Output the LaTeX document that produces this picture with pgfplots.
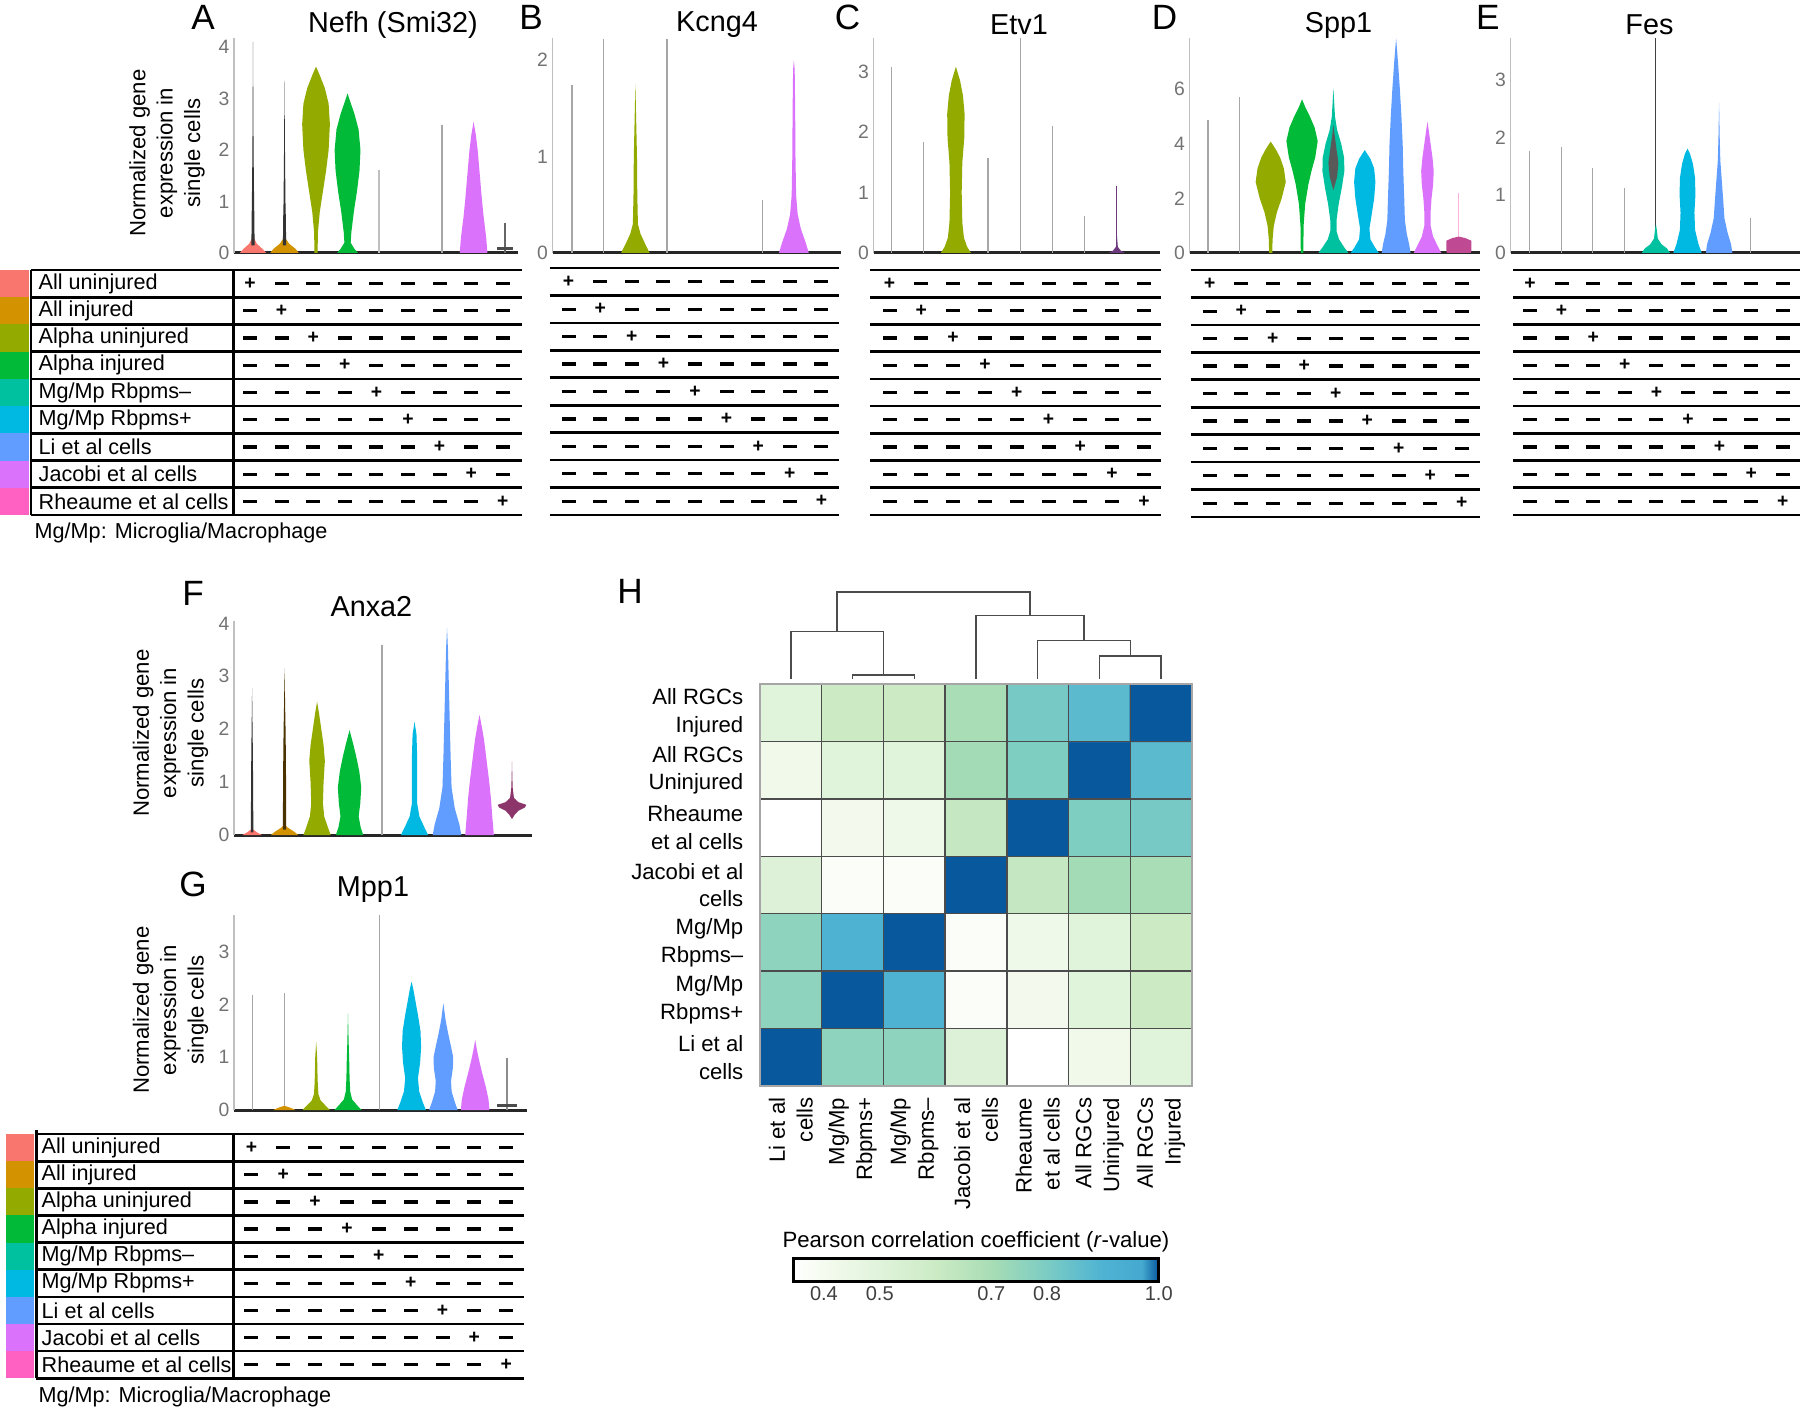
\documentclass[border=0pt]{standalone}
\usepackage{fontspec}
\setmainfont{Liberation Sans}
\usepackage{pgfplots}
\pgfplotsset{compat=1.18}

\definecolor{c0}{HTML}{F8766D}
\definecolor{c1}{HTML}{D39200}
\definecolor{c2}{HTML}{93AA00}
\definecolor{c3}{HTML}{00BA38}
\definecolor{c4}{HTML}{00C19F}
\definecolor{c5}{HTML}{00B9E3}
\definecolor{c6}{HTML}{619CFF}
\definecolor{c7}{HTML}{DB72FB}
\definecolor{c8}{HTML}{FF61C3}

\newcommand\fLab{\fontsize{6.15}{7}\selectfont}
\newcommand\fTitle{\fontsize{8.2}{9}\selectfont}
\newcommand\fLet{\fontsize{10}{12}\selectfont}
\newcommand\fTick{\fontsize{5.5}{6}\selectfont}
\newcommand\fTickH{\fontsize{5.7}{6}\selectfont}
\newcommand\fYlab{\fontsize{6.3}{7.8}\selectfont}
\newcommand\fHm{\fontsize{6.3}{7.9}\selectfont}

\pgfplotsset{
  /pgf/number format/assume math mode=true,
  colormap={gnbu}{rgb255(0pt)=(255,255,255) rgb255(55pt)=(245,251,239) rgb255(155pt)=(224,243,219) rgb255(255pt)=(204,235,197) rgb255(355pt)=(168,221,181) rgb255(455pt)=(123,204,196) rgb255(555pt)=(78,179,211) rgb255(625pt)=(69,169,208) rgb255(655pt)=(8,88,158)},
  vio/.style={scale only axis, anchor=south west, ymin=0, axis lines=left,
    axis line style={-}, x axis line style={black!85, line width=0.3mm},
    y axis line style={black!25, line width=0.15mm},
    xtick=\empty, major tick length=0pt,
    yticklabel style={font=\fTick, text=black!55, inner sep=0.4mm},
    clip=false},
  tabline/.style={black, line width=0.27mm, forget plot},
}

% violin: center, colour, list of y/halfwidth from bottom to top
\newcommand\violin[3]{%
  \gdef\vR{}\gdef\vL{}%
  \foreach \yy/\ww in {#3}{%
    \pgfmathsetmacro\xr{#1+\ww}%
    \pgfmathsetmacro\xl{#1-\ww}%
    \xdef\vR{\vR(\xr,\yy) }%
    \xdef\vL{(\xl,\yy) \vL}%
  }%
  \edef\vtmp{\noexpand\addplot[fill=#2,draw=none,forget plot] coordinates {\vR\vL};}%
  \vtmp
}
\newcommand\vstem[3]{\addplot[draw=#2, line width=0.12mm, forget plot] coordinates {(#1,0) (#1,#3)};}

% table helpers (overlay axis, pixel units)
\tikzset{
  lab/.style={anchor=west, font=\fLab, inner sep=0pt},
  minusn/.style={fill=black, draw=none, minimum width=1.4mm, minimum height=0.32mm, inner sep=0pt},
  plusn/.style={inner sep=0pt, font=\fontsize{5.5}{5.5}\selectfont\bfseries},
}
\newcommand\hlines[4]{% x1 x2 y0 dy
  \foreach \kk in {0,...,9}{%
    \pgfmathsetmacro\py{#3+#4*\kk}%
    \edef\tmp{\noexpand\addplot[tabline] coordinates {(#1,\py) (#2,\py)};}\tmp}}
\newcommand\strips[4]{% x1 x2 y0 dy
  \foreach \kk in {0,...,8}{%
    \pgfmathsetmacro\ya{#3+#4*\kk}\pgfmathsetmacro\yb{#3+#4*(\kk+1)}%
    \edef\tmp{\noexpand\addplot[fill=c\kk, draw=none, forget plot] coordinates {(#1,\ya) (#2,\ya) (#2,\yb) (#1,\yb)};}\tmp}}
\newcommand\pmgrid[4]{% x0 dx yc0 dy
  \foreach \kk in {0,...,8}{%
    \foreach \ii in {0,...,8}{%
      \pgfmathsetmacro\px{#1+#2*\ii}\pgfmathsetmacro\py{#3+#4*\kk}%
      \ifnum\ii=\kk\relax
        \edef\tmp{\noexpand\node[plusn] at (axis cs:\px,\py) {+};}%
      \else
        \edef\tmp{\noexpand\node[minusn] at (axis cs:\px,\py) {};}%
      \fi\tmp}}}
\newcommand\tablabels[3]{%
  \node[lab] at (axis cs:#1,{#2+0*#3}) {All uninjured};
  \node[lab] at (axis cs:#1,{#2+1*#3}) {All injured};
  \node[lab] at (axis cs:#1,{#2+2*#3}) {Alpha uninjured};
  \node[lab] at (axis cs:#1,{#2+3*#3}) {Alpha injured};
  \node[lab] at (axis cs:#1,{#2+4*#3}) {Mg/Mp Rbpms–};
  \node[lab] at (axis cs:#1,{#2+5*#3}) {Mg/Mp Rbpms+};
  \node[lab] at (axis cs:#1,{#2+6*#3}) {Li et al cells};
  \node[lab] at (axis cs:#1,{#2+7*#3}) {Jacobi et al cells};
  \node[lab] at (axis cs:#1,{#2+8*#3}) {Rheaume et al cells};}

\begin{document}
\begin{tikzpicture}
\useasboundingbox (0,0) rectangle (180mm,141mm);

% ---------- overlay in pixel units: texts and tables ----------
\begin{axis}[at={(0,0)}, anchor=south west, scale only axis, width=180mm, height=141mm,
  xmin=0, xmax=1800, ymin=0, ymax=1410, y dir=reverse, hide axis, clip=false]
  \node[font=\fLet] at (axis cs:203,17) {A};
  \node[font=\fLet] at (axis cs:531,17) {B};
  \node[font=\fLet] at (axis cs:847.5,17) {C};
  \node[font=\fLet] at (axis cs:1164.5,17) {D};
  \node[font=\fLet] at (axis cs:1487.8,17) {E};
  \node[font=\fLet] at (axis cs:193,593) {F};
  \node[font=\fLet] at (axis cs:193,884) {G};
  \node[font=\fLet] at (axis cs:630,591) {H};

  \node[font=\fTitle] at (axis cs:393,25) {Nefh (Smi32)};
  \node[font=\fTitle] at (axis cs:717,25) {Kcng4};
  \node[font=\fTitle] at (axis cs:1019,25) {Etv1};
  \node[font=\fTitle] at (axis cs:1338.6,25) {Spp1};
  \node[font=\fTitle] at (axis cs:1649.5,25) {Fes};
  \node[font=\fTitle] at (axis cs:371.4,607) {Anxa2};
  \node[font=\fTitle] at (axis cs:373,890) {Mpp1};

  \node[font=\fYlab, rotate=90, align=center] at (axis cs:167,153) {Normalized gene\\expression in\\single cells};
  \node[font=\fYlab, rotate=90, align=center] at (axis cs:170.5,733) {Normalized gene\\expression in\\single cells};
  \node[font=\fYlab, rotate=90, align=center] at (axis cs:170.5,1010) {Normalized gene\\expression in\\single cells};

  % table A
  \strips{0}{29}{270}{27.22}
  \hlines{31}{522}{270}{27.22}
  \addplot[tabline] coordinates {(31,270) (31,515)};
  \addplot[tabline] coordinates {(233.5,270) (233.5,515)};
  \tablabels{38}{283.6}{27.22}
  \pmgrid{250}{31.6}{283.6}{27.22}
  \node[lab] at (axis cs:34,533) {Mg/Mp: Microglia/Macrophage};
  % table B
  \hlines{549.5}{839}{268}{27.44}
  \pmgrid{568.6}{31.6}{281.7}{27.44}
  % table C
  \hlines{870.4}{1161}{270}{27.22}
  \pmgrid{889.5}{31.8}{283.6}{27.22}
  % table D
  \hlines{1190.6}{1480.3}{270}{27.44}
  \pmgrid{1209.8}{31.5}{283.7}{27.44}
  % table E
  \hlines{1513}{1800}{270}{27.22}
  \pmgrid{1530}{31.6}{283.6}{27.22}
  % table G
  \strips{6.2}{34.4}{1134}{27.14}
  \hlines{36.2}{524}{1134}{27.14}
  \addplot[tabline] coordinates {(36.2,1130) (36.2,1378.3)};
  \addplot[tabline] coordinates {(233.5,1134) (233.5,1378.3)};
  \tablabels{41}{1147.6}{27.14}
  \pmgrid{251.4}{31.85}{1147.6}{27.14}
  \node[lab] at (axis cs:37.9,1396.7) {Mg/Mp: Microglia/Macrophage};
\end{axis}

% ---------- A: Nefh ----------
\begin{axis}[vio, at={(23.4mm,115.7mm)}, width=28.4mm, height=21.5mm,
  xmin=-0.603, xmax=8.41, ymax=4.175, ytick={0,1,2,3,4}]
  \violin{0}{c0}{0/0.42, 0.08/0.3, 0.18/0.12, 0.28/0.04, 0.4/0}
  \violin{0}{black!80}{0.15/0.05, 0.6/0.045, 1.0/0.035, 2.0/0.018, 3.0/0.01, 4.1/0}
  \violin{1}{c1}{0/0.45, 0.08/0.35, 0.18/0.15, 0.28/0.04, 0.4/0}
  \violin{1}{black!80}{0.15/0.05, 0.6/0.045, 1.0/0.03, 2.0/0.015, 3.35/0}
  \violin{2}{c2}{0/0.05, 0.4/0.06, 0.8/0.12, 1.2/0.22, 1.6/0.32, 2.0/0.4, 2.5/0.44, 2.9/0.4, 3.2/0.28, 3.45/0.12, 3.62/0}
  \violin{3}{c3}{0/0.33, 0.08/0.22, 0.2/0.1, 0.4/0.12, 0.8/0.2, 1.2/0.3, 1.6/0.38, 2.0/0.41, 2.4/0.35, 2.7/0.22, 2.95/0.08, 3.1/0}
  \vstem{4}{black!25}{1.61}
  \vstem{6}{black!35}{2.49}
  \violin{7}{c7}{0/0.44, 0.3/0.4, 0.7/0.32, 1.0/0.27, 1.5/0.2, 2.0/0.13, 2.3/0.07, 2.55/0}
  \vstem{8}{black!60}{0.58}
  \violin{8}{black!70}{0.05/0.25, 0.11/0.25}
\end{axis}

% ---------- B: Kcng4 ----------
\begin{axis}[vio, at={(55.25mm,115.7mm)}, width=28.85mm, height=21.5mm,
  xmin=-0.615, xmax=8.486, ymax=2.228, ytick={0,1,2}]
  \vstem{0}{black!35}{1.74}
  \vstem{1}{black!35}{2.22}
  \violin{2}{c2}{0/0.45, 0.1/0.3, 0.2/0.16, 0.3/0.08, 0.6/0.06, 1.0/0.05, 1.3/0.03, 1.75/0}
  \vstem{3}{black!35}{2.22}
  \vstem{6}{black!35}{0.55}
  \violin{7}{c7}{0/0.47, 0.1/0.38, 0.25/0.22, 0.4/0.12, 0.6/0.07, 1.0/0.05, 1.5/0.04, 1.9/0.025, 2.0/0}
\end{axis}

% ---------- C: Etv1 ----------
\begin{axis}[vio, at={(87.35mm,115.7mm)}, width=28.65mm, height=21.5mm,
  xmin=-0.559, xmax=8.339, ymax=3.554, ytick={0,1,2,3}]
  \vstem{0}{black!35}{3.08}
  \vstem{1}{black!35}{1.84}
  \violin{2}{c2}{0/0.47, 0.1/0.35, 0.25/0.25, 0.5/0.2, 1.0/0.18, 1.5/0.2, 1.9/0.26, 2.3/0.27, 2.6/0.22, 2.85/0.13, 3.08/0}
  \vstem{3}{black!35}{1.57}
  \vstem{4}{black!35}{3.55}
  \vstem{5}{black!35}{2.1}
  \vstem{6}{black!35}{0.61}
  \vstem{7}{c7!50!black}{1.1}
  \violin{7}{c7!50!black}{0/0.25, 0.04/0.12, 0.1/0.03, 0.3/0}
\end{axis}

% ---------- D: Spp1 ----------
\begin{axis}[vio, at={(118.95mm,115.7mm)}, width=29.0mm, height=21.5mm,
  xmin=-0.59, xmax=8.66, ymax=7.875, ytick={0,2,4,6}]
  \vstem{0}{black!35}{4.87}
  \vstem{1}{black!35}{5.73}
  \violin{2}{c2}{0/0.05, 0.5/0.06, 1.0/0.1, 1.5/0.2, 2.0/0.35, 2.6/0.48, 3.1/0.42, 3.5/0.3, 3.8/0.16, 4.08/0}
  \violin{3}{c3}{0/0.04, 1.0/0.05, 1.8/0.1, 2.5/0.2, 3.0/0.3, 3.5/0.42, 4.1/0.5, 4.6/0.4, 5.0/0.25, 5.35/0.1, 5.63/0}
  \violin{4}{c4}{0/0.48, 0.2/0.35, 0.5/0.18, 0.8/0.1, 1.2/0.1, 1.8/0.17, 2.4/0.27, 3.0/0.35, 3.5/0.34, 4.0/0.25, 4.5/0.12, 5.0/0.05, 6.03/0}
  \violin{4}{black!65}{2.3/0, 2.8/0.12, 3.3/0.16, 3.8/0.1, 4.3/0.04, 4.7/0}
  \violin{5}{c5}{0/0.45, 0.2/0.33, 0.5/0.18, 0.9/0.15, 1.4/0.22, 2.0/0.3, 2.6/0.34, 3.1/0.3, 3.45/0.18, 3.77/0}
  \violin{6}{c6}{0/0.46, 0.3/0.42, 0.7/0.34, 1.2/0.28, 2.0/0.26, 3.0/0.23, 4.0/0.21, 5.0/0.17, 6.0/0.12, 7.0/0.06, 7.87/0}
  \violin{7}{c7}{0/0.44, 0.25/0.33, 0.6/0.18, 1.0/0.1, 1.5/0.1, 2.0/0.13, 2.5/0.18, 3.0/0.2, 3.5/0.16, 4.0/0.1, 4.5/0.04, 4.81/0}
  \vstem{8}{c8!50}{2.19}
  \violin{8}{c8!75!black}{0/0.38, 0.08/0.4, 0.45/0.4, 0.55/0.2, 0.6/0}
\end{axis}

% ---------- E: Fes ----------
\begin{axis}[vio, at={(151.06mm,115.7mm)}, width=28.94mm, height=21.5mm,
  xmin=-0.598, xmax=8.56, ymax=3.726, ytick={0,1,2,3}]
  \vstem{0}{black!35}{1.76}
  \vstem{1}{black!35}{1.84}
  \vstem{2}{black!35}{1.47}
  \vstem{3}{black!35}{1.12}
  \vstem{4}{black!75}{3.72}
  \violin{4}{c4}{0/0.45, 0.08/0.35, 0.15/0.18, 0.25/0.06, 0.4/0.03, 0.5/0}
  \violin{5}{c5}{0/0.45, 0.15/0.35, 0.4/0.24, 0.7/0.22, 1.0/0.25, 1.3/0.24, 1.55/0.17, 1.72/0.08, 1.81/0}
  \violin{6}{c6}{0/0.42, 0.15/0.38, 0.35/0.27, 0.6/0.17, 1.0/0.12, 1.3/0.08, 1.6/0.04, 2.0/0.02, 2.6/0}
  \vstem{7}{black!35}{0.6}
\end{axis}

% ---------- F: Anxa2 ----------
\begin{axis}[vio, at={(23.4mm,57.5mm)}, width=29.8mm, height=21.4mm,
  xmin=-0.557, xmax=8.615, ymax=4.045, ytick={0,1,2,3,4}]
  \violin{0}{c0}{0/0.3, 0.05/0.15, 0.12/0}
  \violin{0}{black!80}{0.05/0.04, 0.5/0.035, 1.0/0.03, 1.5/0.025, 2.0/0.015, 2.78/0}
  \violin{1}{c1}{0/0.42, 0.06/0.3, 0.14/0.1, 0.2/0}
  \violin{1}{c1!35!black}{0.1/0.05, 0.5/0.05, 1.0/0.045, 1.5/0.04, 2.0/0.03, 2.5/0.015, 3.16/0}
  \violin{2}{c2}{0/0.42, 0.15/0.33, 0.35/0.22, 0.6/0.18, 1.0/0.2, 1.4/0.24, 1.7/0.2, 2.0/0.13, 2.3/0.06, 2.52/0}
  \violin{3}{c3}{0/0.42, 0.15/0.34, 0.35/0.28, 0.6/0.33, 0.9/0.36, 1.2/0.3, 1.5/0.2, 1.75/0.1, 1.98/0}
  \vstem{4}{black!35}{3.59}
  \violin{5}{c5}{0/0.42, 0.15/0.3, 0.35/0.15, 0.6/0.08, 1.0/0.08, 1.5/0.08, 1.9/0.06, 2.14/0}
  \violin{6}{c6}{0/0.44, 0.2/0.38, 0.5/0.24, 0.9/0.14, 1.5/0.11, 2.0/0.09, 2.5/0.07, 3.0/0.05, 3.5/0.03, 3.91/0}
  \violin{7}{c7}{0/0.44, 0.3/0.4, 0.7/0.35, 1.0/0.3, 1.5/0.2, 1.8/0.14, 2.05/0.07, 2.27/0}
  \violin{8}{c8!55!black}{0.3/0, 0.38/0.08, 0.46/0.2, 0.52/0.4, 0.57/0.44, 0.62/0.2, 0.7/0.06, 0.9/0.02, 1.39/0}
\end{axis}

% ---------- G: Mpp1 ----------
\begin{axis}[vio, at={(23.4mm,30.0mm)}, width=29.27mm, height=19.5mm,
  xmin=-0.585, xmax=8.62, ymax=3.69, ytick={0,1,2,3}]
  \vstem{0}{black!35}{2.18}
  \vstem{1}{black!35}{2.21}
  \violin{1}{c1}{0/0.35, 0.04/0.2, 0.08/0}
  \violin{2}{c2}{0/0.43, 0.08/0.3, 0.18/0.14, 0.3/0.07, 0.5/0.05, 0.7/0.04, 1.0/0.03, 1.29/0}
  \violin{3}{c3}{0/0.43, 0.08/0.3, 0.2/0.13, 0.35/0.07, 0.6/0.05, 0.9/0.04, 1.3/0.02, 1.83/0}
  \vstem{4}{black!35}{3.69}
  \violin{5}{c5}{0/0.45, 0.15/0.35, 0.35/0.24, 0.6/0.2, 0.9/0.27, 1.2/0.3, 1.5/0.28, 1.8/0.2, 2.1/0.11, 2.3/0.05, 2.43/0}
  \violin{6}{c6}{0/0.45, 0.15/0.36, 0.35/0.26, 0.55/0.24, 0.8/0.3, 1.0/0.31, 1.2/0.24, 1.45/0.15, 1.7/0.07, 2.02/0}
  \violin{7}{c7}{0/0.45, 0.2/0.42, 0.45/0.33, 0.7/0.22, 0.95/0.12, 1.15/0.05, 1.33/0}
  \vstem{8}{black!45}{0.98}
  \violin{8}{black!70}{0.05/0.3, 0.12/0.3}
\end{axis}

% ---------- H: correlation heatmap ----------
\begin{axis}[at={(76.0mm,32.4mm)}, anchor=south west, scale only axis, width=43.2mm, height=40.2mm,
  xmin=-0.5, xmax=6.5, ymin=-0.5, ymax=6.5, enlargelimits=false, clip=false, axis on top,
  colormap name=gnbu, point meta min=0.345, point meta max=1.0,
  xtick={0,...,6}, ytick={0,...,6},
  xticklabels={{Li et al\\cells},{Mg/Mp\\Rbpms+},{Mg/Mp\\Rbpms–},{Jacobi et al\\cells},{Rheaume\\et al cells},{All RGCs\\Uninjured},{All RGCs\\Injured}},
  yticklabels={{Li et al\\cells},{Mg/Mp\\Rbpms+},{Mg/Mp\\Rbpms–},{Jacobi et al\\cells},{Rheaume\\et al cells},{All RGCs\\Uninjured},{All RGCs\\Injured}},
  xticklabel style={rotate=90, anchor=east, align=right, font=\fHm, inner sep=0pt},
  yticklabel style={align=right, font=\fHm, inner sep=0pt},
  xticklabel shift=1.1mm, yticklabel shift=1.6mm,
  major tick length=0pt, minor tick length=0pt,
  minor xtick={-0.5,0.5,...,6.5}, minor ytick={-0.5,0.5,...,6.5},
  grid=minor, minor grid style={black!70, line width=0.15mm},
  axis line style={black!35, line width=0.2mm},
  colorbar horizontal,
  colorbar style={at={(parent axis.south)}, anchor=north, yshift=-14.2mm,
    scale only axis, width=36.55mm, height=2.3mm,
    xtick={0.4,0.5,0.7,0.8,1.0}, xticklabels={0.4,0.5,0.7,0.8,1.0},
    xticklabel style={font=\fTickH, text=black!75, inner sep=0.5mm, rotate=0, anchor=north},
    major tick length=0pt,
    axis line style={black, line width=0.3mm},
    title={Pearson correlation coefficient (\textit{r}-value)},
    title style={font=\fHm, yshift=-2.15mm, inner sep=0.6mm}}]
  \addplot[matrix plot*, mesh/cols=7, point meta=explicit] table[meta=c] {
x y c
0 0 1.00
1 0 0.76
2 0 0.76
3 0 0.52
4 0 0.35
5 0 0.42
6 0 0.50
0 1 0.76
1 1 1.00
2 1 0.90
3 1 0.37
4 1 0.41
5 1 0.50
6 1 0.60
0 2 0.76
1 2 0.90
2 2 1.00
3 2 0.37
4 2 0.43
5 2 0.50
6 2 0.60
0 3 0.52
1 3 0.37
2 3 0.37
3 3 1.00
4 3 0.62
5 3 0.71
6 3 0.70
0 4 0.35
1 4 0.41
2 4 0.43
3 4 0.62
4 4 1.00
5 4 0.79
6 4 0.81
0 5 0.42
1 5 0.50
2 5 0.50
3 5 0.71
4 5 0.79
5 5 1.00
6 5 0.87
0 6 0.50
1 6 0.60
2 6 0.60
3 6 0.70
4 6 0.81
5 6 0.87
6 6 1.00
};
  % dendrogram
  \addplot[black!70, line width=0.15mm, forget plot] coordinates {(0,6.594) (0,7.411) (1.5,7.411) (1.5,6.657)};
  \addplot[black!70, line width=0.15mm, forget plot] coordinates {(1,6.594) (1,6.657) (2,6.657) (2,6.594)};
  \addplot[black!70, line width=0.15mm, forget plot] coordinates {(0.75,7.411) (0.75,8.103) (3.875,8.103) (3.875,7.693)};
  \addplot[black!70, line width=0.15mm, forget plot] coordinates {(3,6.594) (3,7.693) (4.75,7.693) (4.75,7.254)};
  \addplot[black!70, line width=0.15mm, forget plot] coordinates {(4,6.594) (4,7.254) (5.5,7.254) (5.5,6.99)};
  \addplot[black!70, line width=0.15mm, forget plot] coordinates {(5,6.594) (5,6.99) (6,6.99) (6,6.594)};
\end{axis}
\end{tikzpicture}
\end{document}
